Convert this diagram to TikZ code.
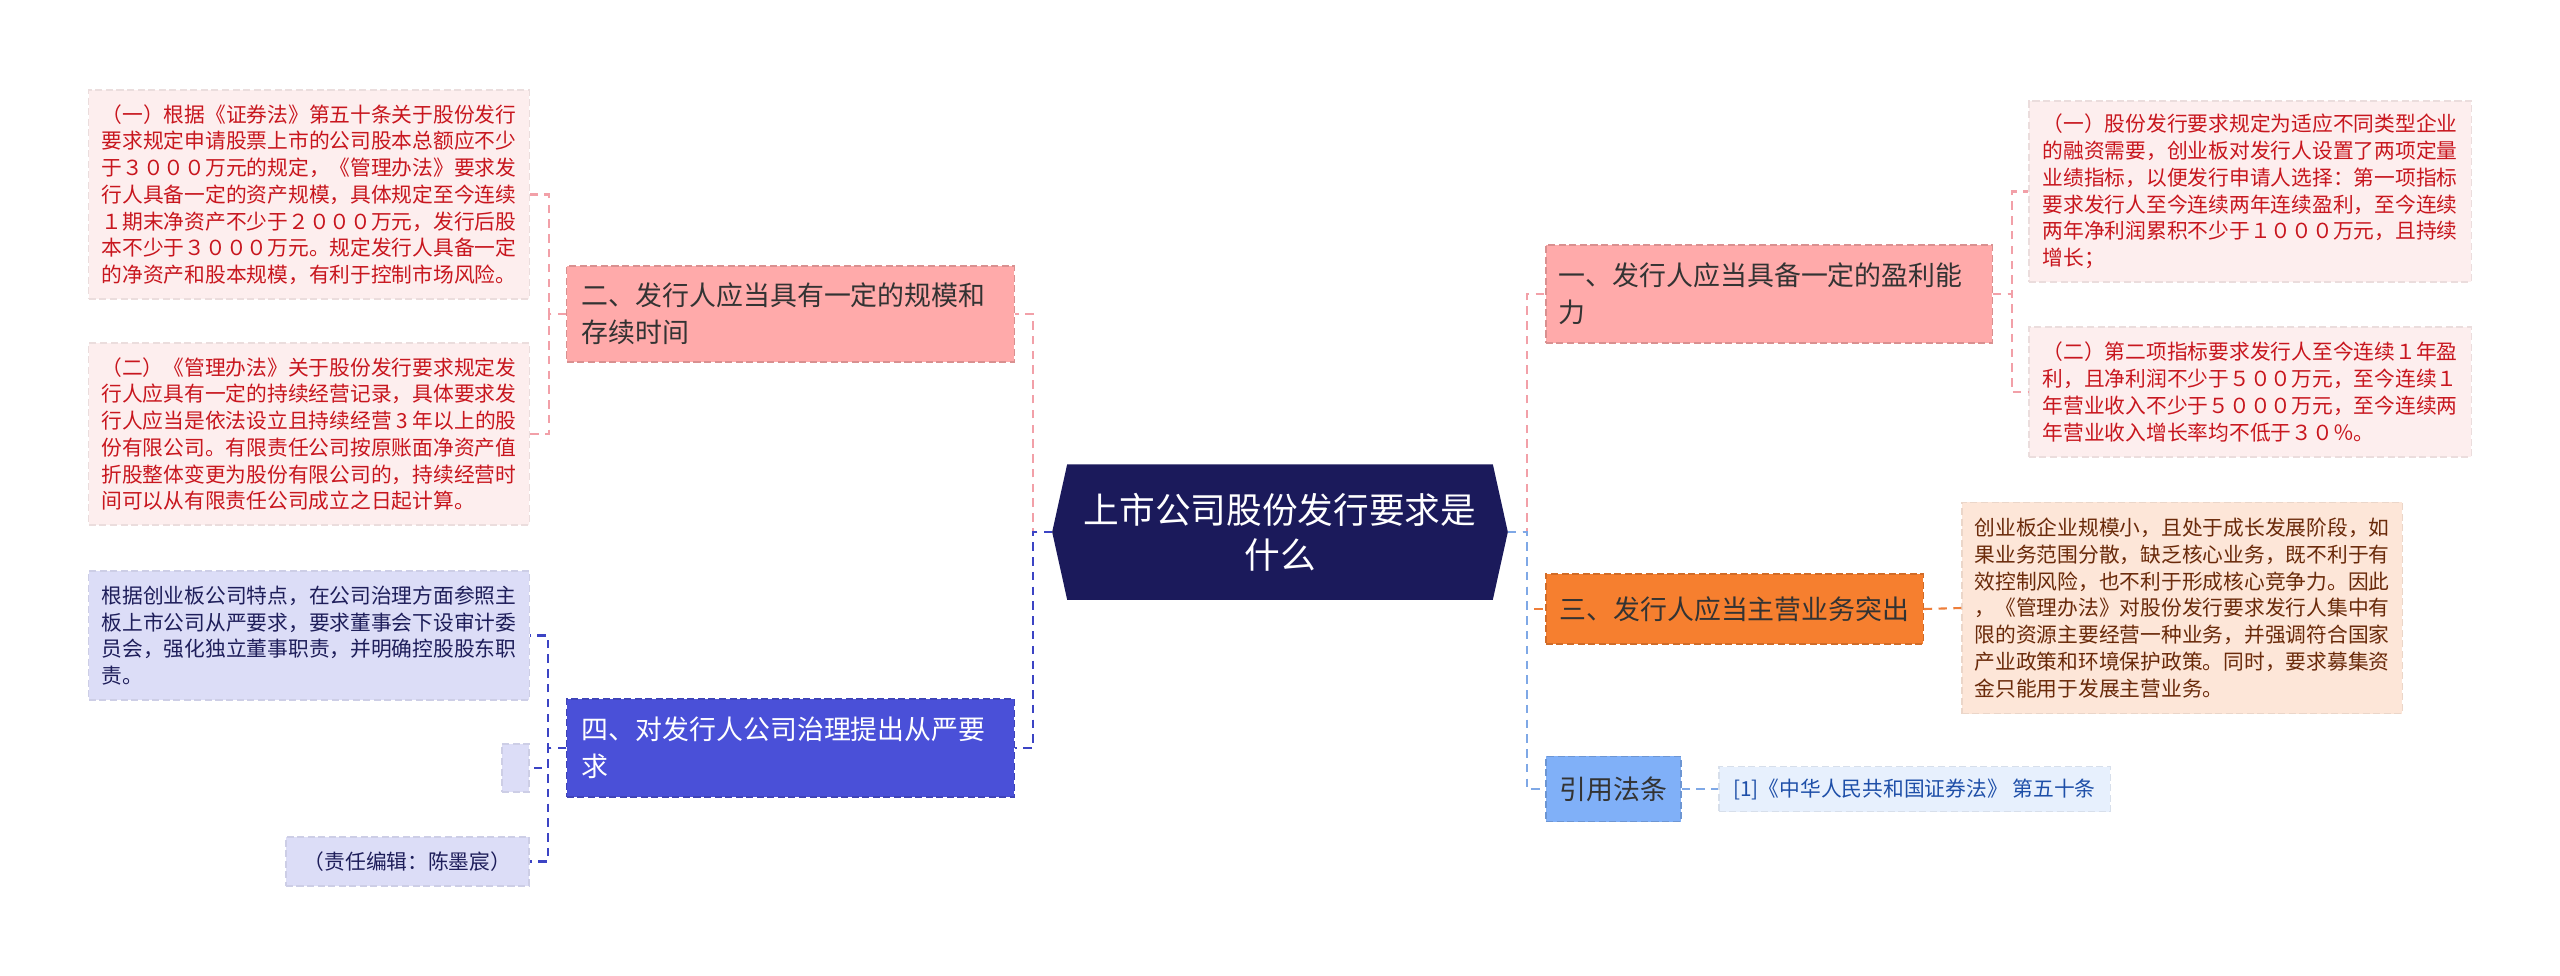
\documentclass[tikz,border=0pt]{standalone}
\usepackage{fontspec}
\setmainfont{Noto Sans CJK SC}
\usetikzlibrary{backgrounds}

\definecolor{marine}{HTML}{1B1A5B}
\definecolor{texte}{HTML}{333333}
\definecolor{rose}{HTML}{FFAAAA}
\definecolor{roseclair}{HTML}{FDEEEE}
\definecolor{rouge}{HTML}{C8161E}
\definecolor{roselien}{HTML}{F2A0A8}
\definecolor{orange}{HTML}{F67F2F}
\definecolor{orangeclair}{HTML}{FDE6D8}
\definecolor{brun}{HTML}{6A2A0A}
\definecolor{orangelien}{HTML}{EE7E3A}
\definecolor{indigo}{HTML}{4A50D8}
\definecolor{lavande}{HTML}{DCDDF7}
\definecolor{nuit}{HTML}{1E1E5A}
\definecolor{indigolien}{HTML}{3C44C4}
\definecolor{ciel}{HTML}{80B0F8}
\definecolor{cielclair}{HTML}{E7F0FD}
\definecolor{bleutexte}{HTML}{1E4FA8}
\definecolor{ciellien}{HTML}{7FA8E6}

\tikzset{
  boite/.style={rectangle, dash pattern=on 2pt off 1pt, line width=0.35pt, inner sep=0pt, align=left},
  branche/.style={boite, font=\fontsize{7.65}{10.6}\selectfont, text=texte},
  feuille/.style={boite, font=\fontsize{5.9}{7.6}\selectfont},
  lien/.style={line width=0.6pt, dash pattern=on 2.4pt off 1.8pt},
}

\begin{document}
\begin{tikzpicture}[x=0.01cm,y=-0.01cm]

\useasboundingbox (0,0) rectangle (2560,975);

% Sujet central
\node[align=center, text=white, inner sep=0pt, minimum width=4.54cm, minimum height=1.34cm,
  font=\fontsize{10.15}{12.8}\selectfont] (root) at (1280,532) {上市公司股份发行要求是\\什么};
\begin{scope}[on background layer]
\fill[white] (0,0) rectangle (2560,975);
\fill[marine] ([xshift=0.15cm]root.north west) -- ([xshift=-0.15cm]root.north east) -- (root.east)
  -- ([xshift=-0.15cm]root.south east) -- ([xshift=0.15cm]root.south west) -- (root.west) -- cycle;
\end{scope}

% Branches a droite
\node[branche, fill=rose, draw=rose!85!black, minimum width=4.46cm, minimum height=0.98cm, text width=4.2cm] (b1) at (1769,294) {一、发行人应当具备一定的盈利能\\力};
\node[branche, fill=orange, draw=orange!85!black, minimum width=3.77cm, minimum height=0.70cm] (b3) at (1734.5,609) {三、发行人应当主营业务突出};
\node[branche, fill=ciel, draw=ciel!85!black, minimum width=1.35cm, minimum height=0.65cm] (bref) at (1613.5,789) {引用法条};

% Branches a gauche
\node[branche, fill=rose, draw=rose!85!black, minimum width=4.47cm, minimum height=0.96cm, text width=4.17cm] (b2) at (790.5,314) {二、发行人应当具有一定的规模和\\存续时间};
\node[branche, fill=indigo, draw=indigo!85!black, text=white, minimum width=4.47cm, minimum height=0.98cm, text width=4.17cm] (b4) at (790.5,748) {四、对发行人公司治理提出从严要\\求};

% Feuilles a droite
\node[feuille, fill=roseclair, draw=roseclair!93!black, text=rouge, minimum width=4.42cm, minimum height=1.81cm] (l1a) at (2250,191.5) {（一）股份发行要求规定为适应不同类型企业\\
的融资需要，创业板对发行人设置了两项定量\\
业绩指标，以便发行申请人选择：第一项指标\\
要求发行人至今连续两年连续盈利，至今连续\\
两年净利润累积不少于１０００万元，且持续\\
增长；};
\node[feuille, fill=roseclair, draw=roseclair!93!black, text=rouge, minimum width=4.42cm, minimum height=1.30cm] (l1b) at (2250,392) {（二）第二项指标要求发行人至今连续１年盈\\
利，且净利润不少于５００万元，至今连续１\\
年营业收入不少于５０００万元，至今连续两\\
年营业收入增长率均不低于３０％。};
\node[feuille, fill=orangeclair, draw=orangeclair!93!black, text=brun, minimum width=4.40cm, minimum height=2.11cm] (l3) at (2182,608) {创业板企业规模小，且处于成长发展阶段，如\\
果业务范围分散，缺乏核心业务，既不利于有\\
效控制风险，也不利于形成核心竞争力。因此\\
，《管理办法》对股份发行要求发行人集中有\\
限的资源主要经营一种业务，并强调符合国家\\
产业政策和环境保护政策。同时，要求募集资\\
金只能用于发展主营业务。};
\node[feuille, fill=cielclair, draw=cielclair!93!black, text=bleutexte, minimum width=3.91cm, minimum height=0.45cm] (lref) at (1914.5,789) {[1]《中华人民共和国证券法》 第五十条};

% Feuilles a gauche
\node[feuille, fill=roseclair, draw=roseclair!93!black, text=rouge, minimum width=4.40cm, minimum height=2.09cm] (l2a) at (309,194.5) {（一）根据《证券法》第五十条关于股份发行\\
要求规定申请股票上市的公司股本总额应不少\\
于３０００万元的规定，《管理办法》要求发\\
行人具备一定的资产规模，具体规定至今连续\\
１期末净资产不少于２０００万元，发行后股\\
本不少于３０００万元。规定发行人具备一定\\
的净资产和股本规模，有利于控制市场风险。};
\node[feuille, fill=roseclair, draw=roseclair!93!black, text=rouge, minimum width=4.40cm, minimum height=1.82cm] (l2b) at (309,434) {（二）《管理办法》关于股份发行要求规定发\\
行人应具有一定的持续经营记录，具体要求发\\
行人应当是依法设立且持续经营 3 年以上的股\\
份有限公司。有限责任公司按原账面净资产值\\
折股整体变更为股份有限公司的，持续经营时\\
间可以从有限责任公司成立之日起计算。};
\node[feuille, fill=lavande, draw=lavande!93!black, text=nuit, minimum width=4.40cm, minimum height=1.29cm] (l4a) at (309,635.5) {根据创业板公司特点，在公司治理方面参照主\\
板上市公司从严要求，要求董事会下设审计委\\
员会，强化独立董事职责，并明确控股股东职\\
责。};
\node[feuille, fill=lavande, draw=lavande!93!black, minimum width=0.27cm, minimum height=0.48cm] (l4b) at (515.5,768) {};
\node[feuille, fill=lavande, draw=lavande!93!black, text=nuit, minimum width=2.43cm, minimum height=0.49cm] (l4c) at (407.5,861.5) {（责任编辑：陈墨宸）};

% Liens
\coordinate (jg) at (1033,532);
\coordinate (jd) at (1527,532);
\coordinate (j1) at (2012,294);
\coordinate (j2) at (549,314);
\coordinate (j4) at (548,748);

\draw[lien, roselien] (root.west) -- (jg) |- (b2.east);
\draw[lien, indigolien] (root.west) -- (jg) |- (b4.east);
\draw[lien, roselien] (root.east) -- (jd) |- (b1.west);
\draw[lien, orangelien] (root.east) -- (jd) |- (b3.west);
\draw[lien, ciellien] (root.east) -- (jd) |- (bref.west);

\draw[lien, roselien] (b1.east) -- (j1) |- (l1a.west);
\draw[lien, roselien] (b1.east) -- (j1) |- (l1b.west);
\draw[lien, orangelien] (b3.east) -- (l3.west);
\draw[lien, ciellien] (bref.east) -- (lref.west);

\draw[lien, roselien] (b2.west) -- (j2) |- (l2a.east);
\draw[lien, roselien] (b2.west) -- (j2) |- (l2b.east);
\draw[lien, indigolien] (b4.west) -- (j4) |- (l4a.east);
\draw[lien, indigolien] (b4.west) -- (j4) |- (l4b.east);
\draw[lien, indigolien] (b4.west) -- (j4) |- (l4c.east);

\end{tikzpicture}
\end{document}
